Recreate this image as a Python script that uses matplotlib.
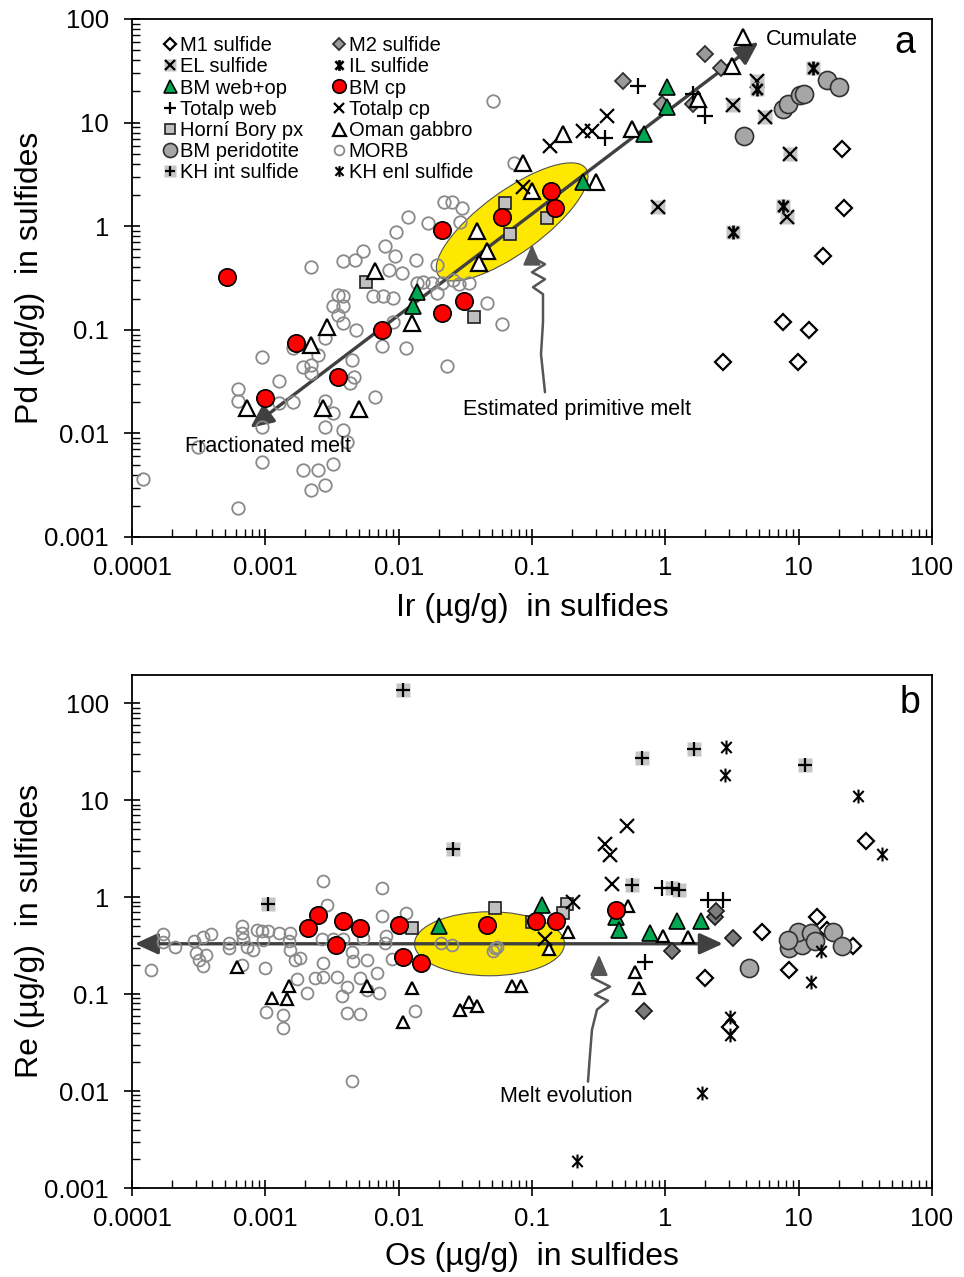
import numpy as np
import matplotlib
matplotlib.use("Agg")
import matplotlib.pyplot as plt
import matplotlib.ticker as mticker
import matplotlib.transforms as mtransforms
from matplotlib.lines import Line2D
from matplotlib.patches import Ellipse
from matplotlib.path import Path
from matplotlib.legend_handler import HandlerTuple

plt.rcParams["font.family"] = ["Liberation Sans", "DejaVu Sans"]

# ---------------- (a) Ir vs Pd in sulfides, µg/g ----------------
m1_a_ir = [21, 21.9, 15.2, 7.6, 12, 2.7, 9.9]
m1_a_pd = [5.5, 1.5, 0.51, 0.12, 0.10, 0.049, 0.049]
m2_a_ir = [0.48, 2.0, 2.6, 0.94, 1.6]
m2_a_pd = [25, 46, 34, 15, 15]
el_a_ir = [3.2, 4.9, 5.6, 8.6, 0.88, 8.2]
el_a_pd = [14.7, 25, 11.3, 5.0, 1.52, 1.24]
il_a_ir = [12.8, 4.9, 7.6, 3.2]
il_a_pd = [34, 21, 1.55, 0.87]
bmweb_a_ir = [0.0137, 0.0128, 0.24, 0.69, 1.03, 1.03]
bmweb_a_pd = [0.23, 0.168, 2.65, 7.7, 22, 14]
bmcp_a_ir = [0.00052, 0.0017, 0.001, 0.0035, 0.0075, 0.021, 0.021, 0.031, 0.060, 0.14, 0.15]
bmcp_a_pd = [0.32, 0.074, 0.022, 0.035, 0.10, 0.91, 0.145, 0.19, 1.22, 2.2, 1.5]
totweb_a_ir = [0.62, 0.35, 1.6, 2.0]
totweb_a_pd = [22.5, 7.1, 18.8, 11.5]
totcp_a_ir = [0.136, 0.24, 0.28, 0.365, 0.086]
totcp_a_pd = [6.0, 8.3, 8.3, 11.5, 2.4]
hb_a_ir = [0.0057, 0.037, 0.063, 0.068, 0.13]
hb_a_pd = [0.29, 0.134, 1.66, 0.85, 1.19]
oman_a_ir = [0.0067, 0.0029, 0.0022, 0.00073, 0.0027, 0.005, 0.0126, 0.039, 0.046,
             0.040, 0.086, 0.10, 0.17, 0.30, 0.56, 1.76, 3.16, 3.8]
oman_a_pd = [0.37, 0.107, 0.072, 0.0177, 0.0177, 0.0173, 0.117, 0.89, 0.57,
             0.44, 4.1, 2.2, 7.7, 2.65, 8.6, 16.8, 35, 67]
perid_a_ir = [3.9, 7.6, 8.3, 10.2, 10.9, 16.3, 20]
perid_a_pd = [7.4, 13.5, 15, 18.4, 19, 25.7, 22]
morb_a_ir = [0.00094, 0.00127, 0.00062, 0.00062, 0.00127, 0.0016, 0.0019, 0.0022, 0.0022, 0.0025,
             0.0028, 0.0016, 0.0048, 0.0045, 0.0046, 0.0043, 0.0067, 0.0075, 0.0114, 0.023,
             0.060, 0.0028, 0.0032, 0.0028, 0.0038, 0.0041, 0.00094, 0.00094, 0.0019, 0.0025,
             0.0032, 0.0028, 0.0022, 0.00062, 0.00012, 0.00031,
             0.0022, 0.0038, 0.0047, 0.0054, 0.0079, 0.0095, 0.0118, 0.0166, 0.022, 0.025,
             0.030, 0.029, 0.0094, 0.0135, 0.0194, 0.0085, 0.0106, 0.0035, 0.0038, 0.0032,
             0.0038, 0.0035, 0.0038, 0.0064, 0.0076, 0.0091, 0.0137, 0.0152, 0.0178, 0.0211,
             0.0194, 0.0256, 0.0283, 0.0337, 0.046, 0.0091, 0.051, 0.073]
morb_a_pd = [0.055, 0.0323, 0.027, 0.0207, 0.0198, 0.0202, 0.044, 0.046, 0.0385, 0.0575,
             0.084, 0.066, 0.10, 0.0515, 0.0352, 0.0308, 0.0226, 0.069, 0.066, 0.045,
             0.115, 0.0207, 0.0158, 0.0116, 0.0108, 0.0083, 0.0116, 0.0053, 0.0044, 0.0044,
             0.0051, 0.0032, 0.00285, 0.0019, 0.0036, 0.0074,
             0.40, 0.457, 0.477, 0.57, 0.64, 0.87, 1.24, 1.08, 1.70, 1.70,
             1.49, 1.09, 0.51, 0.467, 0.418, 0.374, 0.35, 0.219, 0.214, 0.168,
             0.168, 0.14, 0.117, 0.214, 0.214, 0.205, 0.286, 0.292, 0.28, 0.286,
             0.229, 0.305, 0.274, 0.28, 0.183, 0.12, 16, 4.1]

# ---------------- (b) Os vs Re in sulfides, µg/g ----------------
m1_b_os = [32, 5.3, 2.0, 8.5, 13.7, 25.6, 16.4, 3.05]
m1_b_re = [3.75, 0.44, 0.148, 0.175, 0.63, 0.31, 0.46, 0.046]
m2_b_os = [3.2, 1.12, 2.36, 2.4, 0.69]
m2_b_re = [0.38, 0.28, 0.63, 0.71, 0.067]
bmweb_b_os = [0.020, 0.119, 0.43, 0.45, 0.77, 1.22, 1.85]
bmweb_b_re = [0.50, 0.82, 0.62, 0.46, 0.43, 0.57, 0.56]
bmcp_b_os = [0.0025, 0.0021, 0.0038, 0.0051, 0.0034, 0.010, 0.0108, 0.0147, 0.046, 0.107, 0.151, 0.43]
bmcp_b_re = [0.66, 0.485, 0.57, 0.485, 0.32, 0.52, 0.243, 0.21, 0.51, 0.56, 0.56, 0.74]
totweb_b_os = [0.94, 2.09, 2.72, 0.70]
totweb_b_re = [1.23, 0.94, 0.94, 0.216]
totcp_b_os = [0.52, 0.35, 0.385, 0.40, 0.203, 0.125]
totcp_b_re = [5.4, 3.5, 2.7, 1.35, 0.90, 0.373]
hb_b_os = [0.0126, 0.053, 0.10, 0.183, 0.17]
hb_b_re = [0.485, 0.78, 0.55, 0.84, 0.69]
oman_b_os = [0.00061, 0.0015, 0.00112, 0.00145, 0.0058, 0.0126, 0.0108, 0.0288, 0.0337, 0.039,
             0.071, 0.083, 0.186, 0.134, 0.525, 0.59, 0.63, 0.96, 1.48]
oman_b_re = [0.19, 0.122, 0.090, 0.088, 0.122, 0.116, 0.052, 0.069, 0.083, 0.076,
             0.12, 0.122, 0.44, 0.29, 0.80, 0.17, 0.116, 0.40, 0.39]
perid_b_os = [4.24, 8.5, 10.6, 9.9, 12.4, 13.2, 18.1, 21, 8.3]
perid_b_re = [0.187, 0.30, 0.32, 0.44, 0.43, 0.35, 0.44, 0.316, 0.36]
khint_b_os = [0.0108, 0.0256, 0.00105, 0.67, 1.64, 11.2, 0.56, 1.12, 1.27]
khint_b_re = [136, 3.1, 0.84, 27, 34, 22.9, 1.32, 1.23, 1.17]
khenl_b_os = [2.85, 2.8, 27.9, 42, 14.7, 12.4, 3.05, 3.05, 1.88, 0.218]
khenl_b_re = [35, 18, 10.9, 2.75, 0.28, 0.134, 0.058, 0.038, 0.0096, 0.0019]
morb_b_os = [0.00014, 0.00017, 0.00017, 0.00021, 0.00029, 0.00034, 0.00039, 0.0003, 0.00032, 0.00036,
             0.00034, 0.00053, 0.00053, 0.00067, 0.00067, 0.00068, 0.00067, 0.00073, 0.00081, 0.00087,
             0.00094, 0.00104, 0.00096, 0.001, 0.00127, 0.00153, 0.0015, 0.00153, 0.00167, 0.00182,
             0.00173, 0.00205, 0.00102, 0.00136, 0.00136, 0.00266, 0.0027, 0.00236, 0.0027, 0.00345,
             0.00376, 0.0041, 0.0041, 0.0051, 0.0051, 0.0058, 0.0069, 0.0071, 0.0058, 0.00455,
             0.00447, 0.0038, 0.0054, 0.0032, 0.0075, 0.0075, 0.0081, 0.0079, 0.0089, 0.0114,
             0.0133, 0.0029, 0.0027, 0.0045, 0.0208, 0.0251, 0.051, 0.053, 0.055]
morb_b_re = [0.175, 0.42, 0.348, 0.309, 0.356, 0.39, 0.42, 0.268, 0.227, 0.255,
             0.196, 0.34, 0.301, 0.50, 0.43, 0.373, 0.201, 0.309, 0.288, 0.46,
             0.45, 0.45, 0.365, 0.187, 0.43, 0.43, 0.356, 0.288, 0.227, 0.238,
             0.144, 0.103, 0.0658, 0.0612, 0.045, 0.373, 0.211, 0.148, 0.151, 0.151,
             0.096, 0.119, 0.0643, 0.0628, 0.148, 0.227, 0.166, 0.103, 0.111, 0.221,
             0.274, 0.373, 0.38, 0.373, 1.23, 0.645, 0.40, 0.34, 0.232, 0.68,
             0.0675, 0.82, 1.48, 0.0127, 0.34, 0.324, 0.281, 0.301, 0.309]

tick_values = [0.0001, 0.001, 0.01, 0.1, 1, 10, 100]

# ---------------- marker styles ----------------
ASTERISK = Path([(0, -1), (0, 1), (-0.75, -0.8), (0.75, 0.8), (-0.75, 0.8), (0.75, -0.8)],
                [Path.MOVETO, Path.LINETO] * 3)
BG = "#c6c6c6"
STYLES = {
    "M1 sulfide": dict(marker="D", ms=8.0, mfc="white", mec="black", mew=1.6),
    "M2 sulfide": dict(marker="D", ms=8.0, mfc="#9a9a9a", mec="#303030", mew=1.3),
    "EL sulfide": dict(marker="x", ms=9.5, mfc="none", mec="black", mew=1.6),
    "IL sulfide": dict(marker=ASTERISK, ms=10, mfc="none", mec="black", mew=1.9),
    "BM web+op": dict(marker="^", ms=12, mfc="#00a651", mec="black", mew=1.2),
    "BM cp": dict(marker="o", ms=12.5, mfc="#ff0000", mec="black", mew=1.2),
    "Totalp web": dict(marker="+", ms=11, mfc="none", mec="black", mew=1.6),
    "Totalp cp": dict(marker="x", ms=10, mfc="none", mec="black", mew=1.6),
    "Horní Bory px": dict(marker="s", ms=8.6, mfc="#c0c0c0", mec="#202020", mew=1.2),
    "Oman gabbro": dict(marker="^", ms=12, mfc="white", mec="black", mew=1.6),
    "BM peridotite": dict(marker="o", ms=13, mfc="#a6a6a6", mec="#303030", mew=1.2),
    "MORB": dict(marker="o", ms=9.0, mfc="none", mec="#8a8a8a", mew=1.3),
    "KH int sulfide": dict(marker="+", ms=10, mfc="none", mec="black", mew=1.6),
    "KH enl sulfide": dict(marker=ASTERISK, ms=10, mfc="none", mec="black", mew=1.5),
}
BACKED = {"EL sulfide", "IL sulfide", "KH int sulfide"}


def plot_series(ax, key, x, y, scale=1.0, z=4):
    st = dict(STYLES[key])
    st["ms"] = st["ms"] * scale
    if key in BACKED:
        ax.plot(x, y, ls="none", marker="s", ms=10.5 * scale, mfc=BG, mec="none", zorder=z)
    ax.plot(x, y, ls="none", zorder=z, **st)


def legend_handle(key, scale=0.78):
    st = dict(STYLES[key])
    st["ms"] = st["ms"] * scale
    h = Line2D([], [], ls="none", **st)
    if key in ("EL sulfide", "KH int sulfide"):
        bg = Line2D([], [], ls="none", marker="s", ms=10.5 * scale, mfc=BG, mec="none")
        return (bg, h)
    return h


def anchored(ax, point):
    """Transform for drawing in inches relative to a data point."""
    fig = ax.figure
    return fig.dpi_scale_trans + mtransforms.ScaledTranslation(point[0], point[1], ax.transData)


def yellow_field(ax, center, w_px, h_px, angle):
    dpi = ax.figure.dpi
    e = Ellipse((0, 0), w_px / dpi, h_px / dpi, angle=angle, transform=anchored(ax, center),
                facecolor="#ffe800", edgecolor="#505050", lw=0.8, zorder=1)
    ax.add_patch(e)


def wavy_arrow(ax, tip, path_px, color="#555555"):
    dpi = ax.figure.dpi
    pts = np.asarray(path_px, float) / dpi
    ax.plot(pts[:, 0], pts[:, 1], transform=anchored(ax, tip), color=color, lw=1.8,
            solid_joinstyle="round", solid_capstyle="round", zorder=5)
    ax.annotate("", xy=tip, xytext=(0, -17), textcoords="offset pixels",
                arrowprops=dict(arrowstyle="-|>,head_length=0.7,head_width=0.3", mutation_scale=18,
                                color=color, lw=1.6, shrinkA=0, shrinkB=0), zorder=5)


def trend_arrow(ax, start, end):
    ax.annotate("", xy=end, xytext=start,
                arrowprops=dict(arrowstyle="<|-|>,head_length=0.7,head_width=0.32", mutation_scale=20,
                                color="#404040", lw=2.4, shrinkA=0, shrinkB=0), zorder=2)


def style_axes(ax, ylim):
    ax.set_xscale("log")
    ax.set_yscale("log")
    ax.set_xlim(1e-4, 100)
    ax.set_ylim(*ylim)
    fmt = mticker.FuncFormatter(lambda v, p: f"{v:g}")
    for axis in (ax.xaxis, ax.yaxis):
        axis.set_major_locator(mticker.FixedLocator(tick_values))
        axis.set_minor_locator(mticker.LogLocator(base=10, subs=np.arange(2, 10), numticks=30))
        axis.set_major_formatter(fmt)
        axis.set_minor_formatter(mticker.NullFormatter())
    ax.tick_params(which="major", direction="inout", length=11, width=1.2, labelsize=18.5)
    ax.tick_params(axis="x", which="major", pad=8.5)
    ax.tick_params(axis="y", which="major", pad=11)
    ax.tick_params(which="minor", direction="in", length=6, width=1.0)
    ax.tick_params(which="both", top=False, right=False)
    for sp in ax.spines.values():
        sp.set_linewidth(1.3)


fig = plt.figure(figsize=(9.64, 12.77), dpi=100)
ax_a = fig.add_axes([132 / 964, 1 - 537 / 1277, 800 / 964, 518 / 1277])
ax_b = fig.add_axes([132 / 964, 1 - 1188 / 1277, 800 / 964, 513 / 1277])
style_axes(ax_a, (1e-3, 100))
style_axes(ax_b, (1e-3, 195))

# ---------------- panel a ----------------
yellow_field(ax_a, (0.071, 1.1), 182, 62, 36)
trend_arrow(ax_a, (0.00077, 0.0113), (5.0, 60))
plot_series(ax_a, "MORB", morb_a_ir, morb_a_pd, z=3)
plot_series(ax_a, "M1 sulfide", m1_a_ir, m1_a_pd)
plot_series(ax_a, "M2 sulfide", m2_a_ir, m2_a_pd)
plot_series(ax_a, "EL sulfide", el_a_ir, el_a_pd)
plot_series(ax_a, "IL sulfide", il_a_ir, il_a_pd)
plot_series(ax_a, "BM peridotite", perid_a_ir, perid_a_pd)
plot_series(ax_a, "Horní Bory px", hb_a_ir, hb_a_pd)
plot_series(ax_a, "Oman gabbro", oman_a_ir, oman_a_pd)
plot_series(ax_a, "Totalp cp", totcp_a_ir, totcp_a_pd)
plot_series(ax_a, "Totalp web", totweb_a_ir, totweb_a_pd)
plot_series(ax_a, "BM web+op", bmweb_a_ir, bmweb_a_pd)
plot_series(ax_a, "BM cp", bmcp_a_ir, bmcp_a_pd)

wavy_arrow(ax_a, (0.1, 0.67), [(13, -148), (9, -110), (11, -78), (11, -50), (1, -43),
                                (13, -35), (0, -28), (13, -20), (0, -13)])
ax_a.text(5.69, 64, "Cumulate", fontsize=15.5, ha="left", va="center", zorder=6)
ax_a.text(0.00105, 0.0074, "Fractionated melt", fontsize=15.5, ha="center", va="center", zorder=6)
ax_a.text(0.218, 0.0169, "Estimated primitive melt", fontsize=15.5, ha="center", va="center", zorder=6)
ax_a.text(0.966, 0.954, "a", transform=ax_a.transAxes, fontsize=27, ha="center", va="center")
ax_a.set_xlabel("Ir (µg/g)  in sulfides", fontsize=23)
ax_a.set_ylabel("Pd (µg/g)  in sulfides", fontsize=23)
ax_a.xaxis.label.set_va("center")
ax_a.yaxis.label.set_va("center")
ax_a.xaxis.set_label_coords(0.5, -0.137)
ax_a.yaxis.set_label_coords(-0.127, 0.5)

order = ["M1 sulfide", "EL sulfide", "BM web+op", "Totalp web", "Horní Bory px", "BM peridotite",
         "KH int sulfide", "M2 sulfide", "IL sulfide", "BM cp", "Totalp cp", "Oman gabbro",
         "MORB", "KH enl sulfide"]
ax_a.legend([legend_handle(k) for k in order], order, ncol=2, loc="upper left",
            bbox_to_anchor=(0.04, 0.967), frameon=False, fontsize=14.5,
            handlelength=0.6, handletextpad=0.2, columnspacing=1.45, labelspacing=0.11,
            borderpad=0, borderaxespad=0, handler_map={tuple: HandlerTuple(ndivide=1)})

# ---------------- panel b ----------------
yellow_field(ax_b, (0.048, 0.33), 150, 64, 0)
trend_arrow(ax_b, (0.000105, 0.33), (2.7, 0.33))
plot_series(ax_b, "MORB", morb_b_os, morb_b_re, scale=0.95, z=3)
plot_series(ax_b, "M1 sulfide", m1_b_os, m1_b_re)
ax_b.plot(m2_b_os, m2_b_re, ls="none", marker="D", ms=8.0, mfc="#7c7c7c", mec="#202020",
          mew=1.3, zorder=4)
plot_series(ax_b, "BM peridotite", perid_b_os, perid_b_re)
plot_series(ax_b, "KH int sulfide", khint_b_os, khint_b_re)
plot_series(ax_b, "KH enl sulfide", khenl_b_os, khenl_b_re)
plot_series(ax_b, "Horní Bory px", hb_b_os, hb_b_re)
plot_series(ax_b, "Oman gabbro", oman_b_os, oman_b_re, scale=0.72)
plot_series(ax_b, "Totalp cp", totcp_b_os, totcp_b_re)
plot_series(ax_b, "Totalp web", totweb_b_os, totweb_b_re)
plot_series(ax_b, "BM web+op", bmweb_b_os, bmweb_b_re)
plot_series(ax_b, "BM cp", bmcp_b_os, bmcp_b_re)

wavy_arrow(ax_b, (0.318, 0.255), [(-11, -127), (-9, -100), (-7, -75), (-2, -55), (9, -46),
                                   (-4, -40), (11, -32), (-7, -23), (0, -14)])
ax_b.text(0.18, 0.0087, "Melt evolution", fontsize=15.5, ha="center", va="center", zorder=6)
ax_b.text(0.9725, 0.945, "b", transform=ax_b.transAxes, fontsize=27, ha="center", va="center")
ax_b.set_xlabel("Os (µg/g)  in sulfides", fontsize=23)
ax_b.set_ylabel("Re (µg/g)  in sulfides", fontsize=23)
ax_b.xaxis.label.set_va("center")
ax_b.yaxis.label.set_va("center")
ax_b.xaxis.set_label_coords(0.5, -0.1345)
ax_b.yaxis.set_label_coords(-0.127, 0.5)

fig.savefig("out.png", dpi=100)
